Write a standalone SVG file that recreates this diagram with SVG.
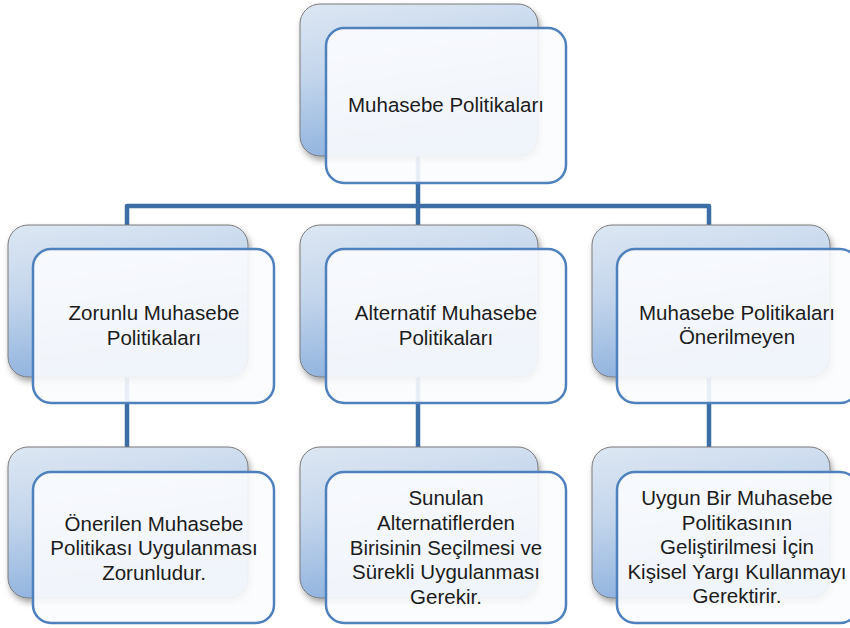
<svg xmlns="http://www.w3.org/2000/svg" width="850" height="628" viewBox="0 0 850 628">
<defs>
<linearGradient id="bg" x1="0" y1="0" x2="0.25" y2="1">
<stop offset="0" stop-color="#dde7f3"/>
<stop offset="0.45" stop-color="#c4d6ec"/>
<stop offset="1" stop-color="#8fb2de"/>
</linearGradient>
<filter id="sh" x="-10%" y="-10%" width="125%" height="130%">
<feDropShadow dx="2" dy="4" stdDeviation="3" flood-color="#000" flood-opacity="0.35"/>
</filter>
</defs>
<style>
.back{fill:url(#bg);stroke:#7a7a7a;stroke-width:1;filter:url(#sh)}
.front{fill:#fbfcfe;fill-opacity:0.9;stroke:#4f81bd;stroke-width:2.5}
.t{font-family:"Liberation Sans",Arial,sans-serif;font-size:20.5px;fill:#1c1c1c;text-anchor:middle}
.c{fill:none;stroke:#3b6ea5;stroke-width:4.5;stroke-linejoin:round}
</style>
<rect width="850" height="628" fill="#ffffff"/>
<g id="connectors">
<path class="c" d="M418 150 V206"/>
<path class="c" d="M127 228 V206 H709 V228"/>
<path class="c" d="M418 206 V228"/>
<path class="c" d="M127 370 V450"/>
<path class="c" d="M418 370 V450"/>
<path class="c" d="M709 370 V450"/>
</g>
<g id="n0">
<rect class="back" x="300" y="4" width="238" height="152" rx="20"/>
<rect class="front" x="326" y="28" width="240" height="155" rx="18"/>
<text class="t" x="446" y="112">Muhasebe Politikaları</text>
</g>
<g id="n1">
<rect class="back" x="8" y="225" width="240" height="152" rx="20"/>
<rect class="front" x="33" y="249" width="241" height="154" rx="18"/>
<text class="t" x="154" y="320">Zorunlu Muhasebe</text>
<text class="t" x="154" y="345">Politikaları</text>
</g>
<g id="n2">
<rect class="back" x="300" y="225" width="238" height="152" rx="20"/>
<rect class="front" x="326" y="249" width="240" height="154" rx="18"/>
<text class="t" x="446" y="320">Alternatif Muhasebe</text>
<text class="t" x="446" y="345">Politikaları</text>
</g>
<g id="n3">
<rect class="back" x="592" y="225" width="238" height="152" rx="20"/>
<rect class="front" x="617" y="249" width="241" height="154" rx="18"/>
<text class="t" x="737" y="320">Muhasebe Politikaları</text>
<text class="t" x="737" y="344">Önerilmeyen</text>
</g>
<g id="n4">
<rect class="back" x="8" y="447" width="240" height="151" rx="20"/>
<rect class="front" x="33" y="472" width="241" height="151" rx="18"/>
<text class="t" x="154" y="531">Önerilen Muhasebe</text>
<text class="t" x="154" y="555">Politikası Uygulanması</text>
<text class="t" x="154" y="580">Zorunludur.</text>
</g>
<g id="n5">
<rect class="back" x="300" y="447" width="238" height="151" rx="20"/>
<rect class="front" x="326" y="472" width="240" height="151" rx="18"/>
<text class="t" x="446" y="505">Sunulan</text>
<text class="t" x="446" y="530">Alternatiflerden</text>
<text class="t" x="446" y="555">Birisinin Seçilmesi ve</text>
<text class="t" x="446" y="579">Sürekli Uygulanması</text>
<text class="t" x="446" y="604">Gerekir.</text>
</g>
<g id="n6">
<rect class="back" x="592" y="447" width="238" height="151" rx="20"/>
<rect class="front" x="617" y="472" width="241" height="151" rx="18"/>
<text class="t" x="737" y="505">Uygun Bir Muhasebe</text>
<text class="t" x="737" y="530">Politikasının</text>
<text class="t" x="737" y="554">Geliştirilmesi İçin</text>
<text class="t" x="737" y="579">Kişisel Yargı Kullanmayı</text>
<text class="t" x="737" y="603">Gerektirir.</text>
</g>
</svg>
